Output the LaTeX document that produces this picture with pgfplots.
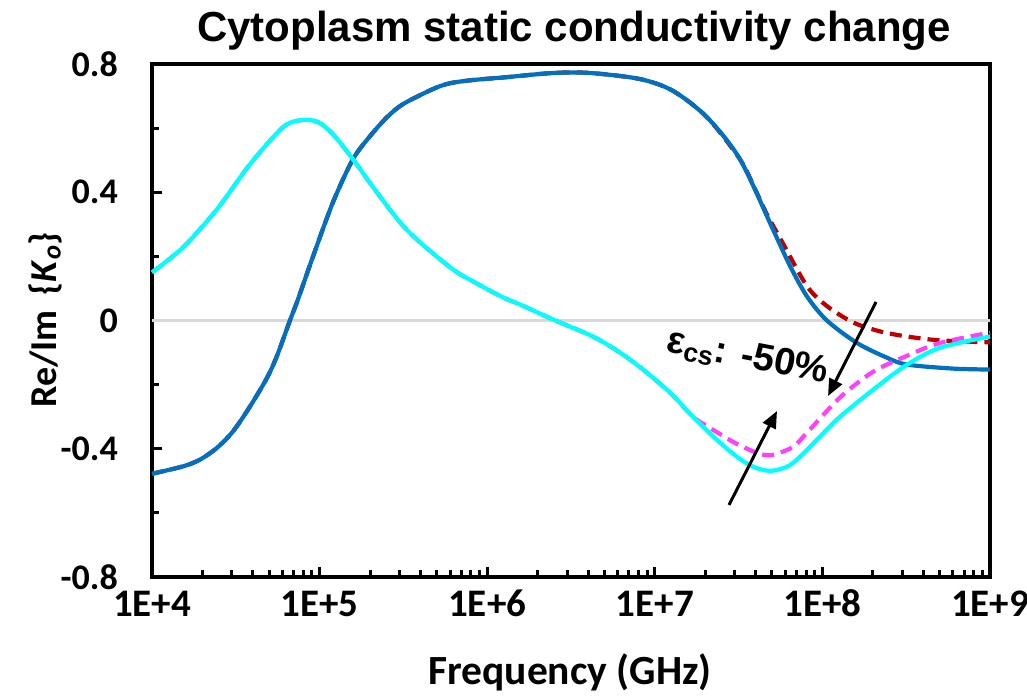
\documentclass[border=0pt]{standalone}
\usepackage{pgfplots}
\pgfplotsset{compat=1.18}
\usetikzlibrary{arrows.meta}
\usepackage{fontspec}
\setmainfont{Liberation Sans}
\newfontfamily\carlito{Carlito}

\definecolor{reblue}{RGB}{0,112,192}
\definecolor{imcyan}{RGB}{0,255,255}
\definecolor{redd}{RGB}{192,0,0}
\definecolor{magd}{RGB}{255,64,255}
\definecolor{zgray}{RGB}{217,217,217}

\begin{document}
\begin{tikzpicture}
\begin{axis}[
  name=ax,
  scale only axis,
  width=838pt, height=513pt,
  xmode=log,
  xmin=1e4, xmax=1e9,
  ymin=-0.8, ymax=0.8,
  clip=false,
  axis line style={line width=3.5pt, black},
  tick align=inside,
  tick pos=left,
  major tick length=10pt,
  minor tick length=7pt,
  every tick/.style={line width=3pt, black},
  xtick={1e4,1e5,1e6,1e7,1e8,1e9},
  xticklabels={1E+4,1E+5,1E+6,1E+7,1E+8,1E+9},
  minor xtick={2e4,3e4,4e4,5e4,6e4,7e4,8e4,9e4,
               2e5,3e5,4e5,5e5,6e5,7e5,8e5,9e5,
               2e6,3e6,4e6,5e6,6e6,7e6,8e6,9e6,
               2e7,3e7,4e7,5e7,6e7,7e7,8e7,9e7,
               2e8,3e8,4e8,5e8,6e8,7e8,8e8,9e8},
  ytick={-0.8,-0.4,0,0.4,0.8},
  yticklabels={-0.8,-0.4,0,0.4,0.8},
  minor ytick={-0.6,-0.2,0.2,0.6},
  xticklabel style={font=\carlito\bfseries\fontsize{39}{39}\selectfont, anchor=base, inner sep=0pt, yshift=-40pt},
  yticklabel style={font=\carlito\bfseries\fontsize{36}{36}\selectfont, anchor=east, inner sep=0pt, xshift=-34pt},
]
\addplot[zgray, line width=3pt, forget plot] coordinates {(1e4,0) (1e9,0)};

% Re, changed (dashed red)
\addplot[redd, line width=4.2pt, dash pattern=on 12pt off 7pt, smooth] coordinates {
(1e4,-0.478) (1.531e4,-0.455) (1.932e4,-0.434) (2.443e4,-0.397) (3.041e4,-0.346)
(3.846e4,-0.268) (4.853e4,-0.179) (5.572e4,-0.11) (6.653e4,0.0) (7.430e4,0.066)
(9.141e4,0.2) (1.202e5,0.369) (1.581e5,0.503) (2.000e5,0.575) (2.523e5,0.634)
(3.148e5,0.675) (4.753e5,0.722) (5.998e5,0.74) (8.222e5,0.75) (1.312e6,0.759)
(2.472e6,0.772) (4.102e6,0.772) (8.166e6,0.753) (1.285e7,0.716) (2.046e7,0.634)
(3.221e7,0.503) (3.963e7,0.41) (4.677e7,0.33) (5.821e7,0.24) (8.091e7,0.107)
(1.064e8,0.045) (1.524e8,-0.006) (2.208e8,-0.034) (3.199e8,-0.05) (5.035e8,-0.062)
(1e9,-0.068)};

% Re, base (solid blue)
\addplot[reblue, line width=4.2pt, smooth] coordinates {
(1e4,-0.478) (1.531e4,-0.455) (1.932e4,-0.434) (2.443e4,-0.397) (3.041e4,-0.346)
(3.846e4,-0.268) (4.853e4,-0.179) (5.572e4,-0.11) (6.653e4,0.0) (7.430e4,0.066)
(9.141e4,0.2) (1.202e5,0.369) (1.581e5,0.503) (2.000e5,0.575) (2.523e5,0.634)
(3.148e5,0.675) (4.753e5,0.722) (5.998e5,0.74) (8.222e5,0.75) (1.312e6,0.759)
(2.472e6,0.772) (4.102e6,0.772) (8.166e6,0.753) (1.285e7,0.716) (2.046e7,0.634)
(3.221e7,0.503) (5.070e7,0.284) (6.412e7,0.17) (8.091e7,0.075) (1.064e8,0.0)
(1.607e8,-0.07) (2.427e8,-0.116) (3.199e8,-0.1375) (6.012e8,-0.15) (1e9,-0.153)};

% Im, changed (dashed magenta)
\addplot[magd, line width=4.2pt, dash pattern=on 12pt off 7pt, smooth] coordinates {
(1e4,0.15) (1.531e4,0.228) (2.443e4,0.347) (3.846e4,0.4875) (6.053e4,0.603)
(7.852e4,0.625) (9.772e4,0.619) (1.202e5,0.581) (1.581e5,0.503) (2.084e5,0.416)
(3.020e5,0.306) (3.972e5,0.244) (6.252e5,0.159) (8.222e5,0.122) (1.242e6,0.072)
(1.570e6,0.05) (2.472e6,0.003) (4.276e6,-0.05) (6.194e6,-0.1) (8.511e6,-0.153)
(1.233e7,-0.225) (1.690e7,-0.3) (2.133e7,-0.335) (3.090e7,-0.385) (4.246e7,-0.416)
(5.070e7,-0.419) (6.683e7,-0.394) (8.091e7,-0.35) (1.274e8,-0.24) (2.004e8,-0.16)
(3.199e8,-0.11) (5.035e8,-0.07) (1e9,-0.038)};

% Im, base (solid cyan)
\addplot[imcyan, line width=4.2pt, smooth] coordinates {
(1e4,0.15) (1.531e4,0.228) (2.443e4,0.347) (3.846e4,0.4875) (6.053e4,0.603)
(7.852e4,0.625) (9.772e4,0.619) (1.202e5,0.581) (1.581e5,0.503) (2.084e5,0.416)
(3.020e5,0.306) (3.972e5,0.244) (6.252e5,0.159) (8.222e5,0.122) (1.242e6,0.072)
(1.570e6,0.05) (2.472e6,0.003) (4.276e6,-0.05) (6.194e6,-0.1) (8.511e6,-0.153)
(1.233e7,-0.225) (1.690e7,-0.3) (2.344e7,-0.372) (3.090e7,-0.425) (3.855e7,-0.456)
(4.864e7,-0.469) (6.152e7,-0.456) (7.345e7,-0.425) (1.064e8,-0.34) (1.274e8,-0.30)
(2.004e8,-0.216) (3.199e8,-0.1375) (5.035e8,-0.085) (1e9,-0.05)};

% annotation
\draw[line width=3pt, -{Triangle[length=17pt,width=14pt]}] (rel axis cs:0.6885,0.1404) -- (rel axis cs:0.7458,0.3236);
\draw[line width=3pt, -{Triangle[length=17pt,width=14pt]}] (rel axis cs:0.8640,0.5361) -- (rel axis cs:0.8067,0.3528);
\node[rotate=-11, font=\bfseries\fontsize{38}{38}\selectfont, inner sep=0pt] at (rel axis cs:0.7110,0.428) {ε\textsubscript{cs}: -50\%};

% title and axis labels
\node[anchor=base, font=\bfseries\fontsize{42}{42}\selectfont, inner sep=0pt] at (rel axis cs:0.5036,1.0429) {Cytoplasm static conductivity change};
\node[anchor=base, font=\carlito\bfseries\fontsize{41.5}{41.5}\selectfont, inner sep=0pt] at (rel axis cs:0.4988,-0.2105) {Frequency (GHz)};
\node[rotate=90, anchor=center, font=\carlito\bfseries\fontsize{38}{38}\selectfont, inner sep=0pt] at (rel axis cs:-0.1277,0.501) {Re/Im\hspace{0.4em}\{\textit{K}\textsubscript{\textit{o}}\}};
\end{axis}
\pgfresetboundingbox
\path[use as bounding box] ([xshift=-152pt,yshift=-122pt]ax.south west) rectangle ([xshift=37pt,yshift=64pt]ax.north east);
\end{tikzpicture}
\end{document}
